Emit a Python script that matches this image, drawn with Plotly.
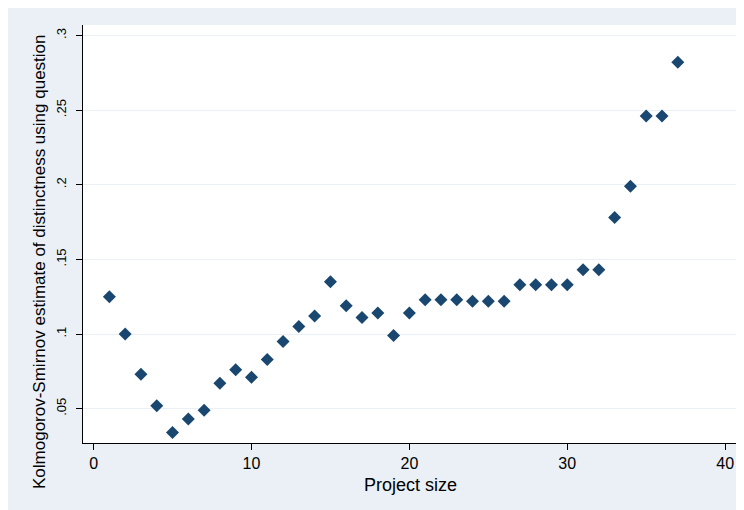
import plotly.graph_objects as go

project_size = list(range(1, 38))
ks_estimate = [0.125, 0.100, 0.073, 0.052, 0.034, 0.043, 0.049, 0.067, 0.076, 0.071,
               0.083, 0.095, 0.105, 0.112, 0.135, 0.119, 0.111, 0.114, 0.099, 0.114,
               0.123, 0.123, 0.123, 0.122, 0.122, 0.122, 0.133, 0.133, 0.133, 0.133,
               0.143, 0.143, 0.178, 0.199, 0.246, 0.246, 0.282]

y_tickvals = [0.05, 0.10, 0.15, 0.20, 0.25, 0.30]
y_ticktext = [".05", ".1", ".15", ".2", ".25", ".3"]
x_tickvals = [0, 10, 20, 30, 40]

x_title = "Project size"
y_title = "Kolmogorov-Smirnov estimate of distinctness using question"

W, H = 744, 510
L, R, T, B = 75, 15, 17, 75

font = "Liberation Sans, Arial, sans-serif"
bg = "#EAF0F5"

fig = go.Figure()
fig.add_trace(go.Scatter(
    x=project_size, y=ks_estimate, mode="markers",
    marker=dict(symbol="diamond", size=10, color="#1a476f"),
    showlegend=False, hoverinfo="x+y",
))

fig.update_layout(
    width=W, height=H,
    margin=dict(l=L, r=R, t=T, b=B),
    paper_bgcolor=bg,
    plot_bgcolor="white",
    font=dict(family=font, size=15, color="#000000"),
    xaxis=dict(
        range=[-0.67, 40.75], tickvals=x_tickvals, ticks="outside", ticklen=6,
        tickcolor="#000", showline=True, linecolor="#000", linewidth=1.3,
        showgrid=False, zeroline=False, mirror=False, automargin=False,
        tickfont=dict(size=16), ticklabelstandoff=0,
    ),
    yaxis=dict(
        range=[0.027, 0.307], tickvals=y_tickvals, ticktext=y_ticktext,
        tickangle=-90, ticks="outside", ticklen=6, tickcolor="#000",
        showline=True, linecolor="#000", linewidth=1.3, automargin=False,
        showgrid=True, gridcolor="#EAF0F5", gridwidth=1.2, zeroline=False,
        tickfont=dict(size=13), ticklabelstandoff=5,
    ),
    annotations=[
        dict(text=x_title, xref="paper", yref="paper", x=0.5, y=0,
             xanchor="center", yanchor="middle", yshift=-42, showarrow=False,
             font=dict(size=18)),
        dict(text=y_title, xref="paper", yref="paper", x=0, y=0.5,
             xanchor="center", yanchor="middle", xshift=-44, yshift=-28,
             textangle=-90, showarrow=False, font=dict(size=17)),
    ],
)

fig.write_html("out.html")
